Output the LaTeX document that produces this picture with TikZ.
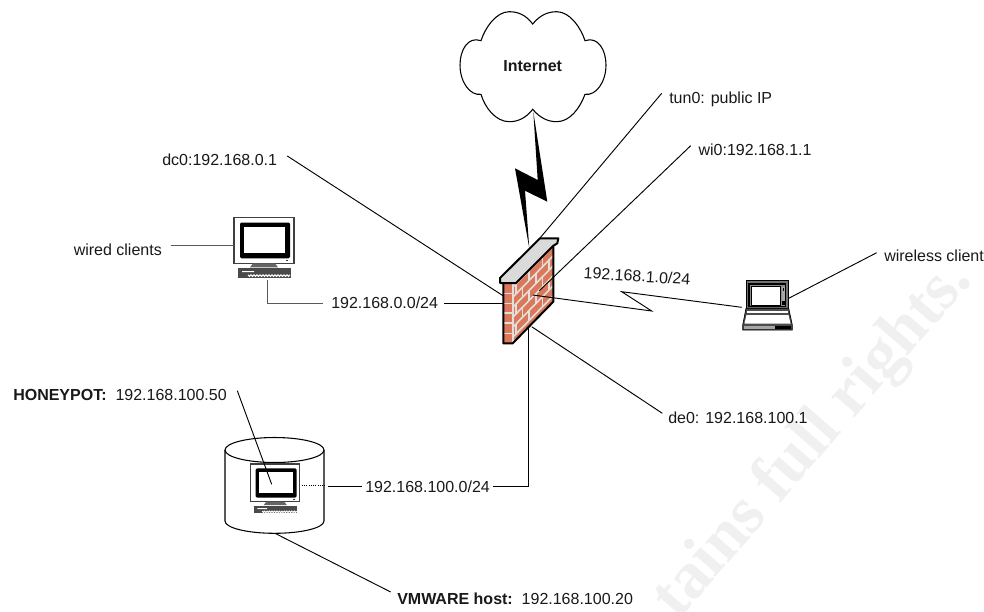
\documentclass[tikz,border=0pt]{standalone}
\usepackage{fontspec}
\setmainfont{Liberation Sans}
\newfontfamily\wmfont{Liberation Serif}
\definecolor{brick}{HTML}{D9785A}
\definecolor{mortar}{HTML}{E4DFDA}
\definecolor{capgray}{HTML}{DADADA}
\definecolor{wmark}{HTML}{F0F0F0}
\definecolor{kbgray}{HTML}{4A4A4A}
\tikzset{
  x=0.75pt,y=-0.75pt,
  wire/.style={draw=black,line width=0.7pt},
  graywire/.style={draw=black!65,line width=1pt},
  label/.style={anchor=base west,inner sep=0pt,font=\fontsize{12}{14}\selectfont,text=black!90},
  mortarline/.style={draw=mortar,line width=1.2pt},
  watermark/.style={font=\wmfont\bfseries\fontsize{50}{52}\selectfont,text=wmark,inner sep=0pt}
}
\newcommand{\pcmonitor}[3]{%
 \begin{scope}[shift={(#1,#2)},scale=#3]
  \fill[white,draw=black!75,line width=0.8pt] (0,0) rectangle (60,46);
  \fill[black,rounded corners=1pt] (6,5.3) rectangle (56,41);
  \fill[white] (10,10) rectangle (51,35.3);
  \fill[black!80] (51.5,42.3) rectangle (54,43.3);
  \fill[black!60] (19,46) -- (41,46) -- (44,50) -- (16,50) -- cycle;
  \fill[kbgray] (3.7,51) rectangle (56.7,60.3);
  \draw[white,line width=0.8pt] (8,54.3) -- (20,54.3) (14,57.5)
     \foreach \k in {0,...,13}{ -- ++(1.5,1.5) -- ++(1.5,-1.5)};
 \end{scope}}
\begin{document}
\begin{tikzpicture}
\useasboundingbox (0,0) rectangle (984,611);
\clip (0,0) rectangle (984,611);
\fill[white] (0,0) rectangle (984,611);
% watermark
\node[watermark,rotate=49] (wm) at (814,440) {tains full rights.};
% cloud
\draw[fill=white,line width=0.8pt] (532.7,24) .. controls (540,15) and (548,11.7) .. (556.7,11.7)
  .. controls (570,11.7) and (581,28) .. (585,40.7)
  .. controls (598,36) and (606,50) .. (606,65)
  .. controls (606,82) and (596,96) .. (585,94.3)
  .. controls (580,108) and (570,121.7) .. (556.7,121.7)
  .. controls (548,121.7) and (540,118) .. (532.7,109.3)
  .. controls (526,118) and (518,121.7) .. (509.3,121.7)
  .. controls (496,121.7) and (485,108) .. (481,94.3)
  .. controls (470,96) and (460,82) .. (460,65)
  .. controls (460,50) and (468,36) .. (481,40.7)
  .. controls (485,28) and (496,11.7) .. (509.3,11.7)
  .. controls (518,11.7) and (526,15) .. (532.7,24) -- cycle;
\node[label,anchor=base,font=\bfseries\fontsize{12}{14}\selectfont] (internet) at (532.7,71.7) {Internet};
% lightning
\fill[black] (533.3,111.7) -- (547.3,201.7) -- (525,190.7) -- (529.3,248.3) -- (515,168.3) -- (537.7,180) -- cycle;
% firewall
\begin{scope}
  \fill[brick] (503.3,283) -- (516,283) -- (553.3,246.7) -- (553.3,301.7) -- (512.7,343.3) -- (503.3,343.3) -- cycle;
  \clip (503.3,283) -- (516,283) -- (553.3,246.7) -- (553.3,301.7) -- (512.7,343.3) -- (503.3,343.3) -- cycle;
  \foreach \yy in {293.3,303.3,312.7,322.7,333.3}{\draw[mortarline] (503.3,\yy) -- (512.7,\yy);}
  \draw[mortarline,line width=1.4pt] (512.7,343.3) -- (512.7,280);
  \begin{scope}[shift={(512.7,343.3)},yslant=1.025]
    \foreach \k in {0,...,6}{
      \pgfmathsetmacro{\vv}{-(\k*10+6)}
      \draw[mortarline] (0,\vv) -- (42,\vv);
      \pgfmathsetmacro{\vt}{\vv-10}
      \pgfmathsetmacro{\off}{mod(\k,2)*6.7+3}
      \foreach \j in {0,1,2}{
        \pgfmathsetmacro{\uu}{\off+\j*13.4}
        \draw[mortarline] (\uu,\vv) -- (\uu,\vt);
      }
    }
  \end{scope}
\end{scope}
\draw[line width=1.5pt,line join=round] (503.3,283) -- (503.3,343.3) -- (512.7,343.3) -- (553.3,301.7) -- (553.3,246.7);
\draw[fill=capgray,line width=1.5pt,line join=round] (500,278) -- (540,238.3) -- (558.3,238.3) -- (557.3,243.3) -- (553,246) -- (516,283) -- (500,283) -- cycle;
% PC 1
\pcmonitor{234}{217.3}{1}
\coordinate (pcleft) at (234,245.7);
\coordinate (pcbot) at (267.3,280);
\coordinate (pccorner) at (267.3,303.3);
% cylinder
\draw[fill=white,line width=0.8pt] (225,450) -- (225,521) arc[start angle=180,end angle=0,x radius=49.5,y radius=12.3] -- (324,450);
\draw[fill=white,line width=0.8pt] (274.5,450) ellipse[x radius=49.5,y radius=12.5];
\pcmonitor{250.7}{464}{0.82}
% laptop
\fill[black!55,draw=black,line width=0.6pt] (746,280.7) rectangle (788.7,308.3);
\fill[black] (748,283) rectangle (786,307);
\fill[black!45] (749.5,284.5) rectangle (785,306);
\fill[black] (751,286) rectangle (781,306);
\fill[white] (752,286.5) rectangle (780,304.5);
\fill[black!35] (781.5,287) rectangle (785,304);
\fill[black] (782.5,288) rectangle (784,291);
\fill[black] (782,301) rectangle (785,305);
\fill[black!70,draw=black,line width=0.5pt] (746,308.3) -- (788.7,308.3) -- (792.3,325) -- (792.3,330) -- (742.7,330) -- (742.7,325) -- cycle;
\fill[white] (747,311) rectangle (788,312.5);
\fill[white] (746.5,315) -- (788.5,315) -- (790.5,323.5) -- (744.5,323.5) -- cycle;
\fill[black!35] (744,326) rectangle (775,329);
\fill[black] (775,326) rectangle (791,329);
% labels
\node[label] (tun) at (669,103.3) {tun0: public IP};
\node[label] (wi) at (698.3,155) {wi0:192.168.1.1};
\node[label] (dc) at (162,165) {dc0:192.168.0.1};
\node[label] (wired) at (73.5,255) {wired clients};
\node[label] (wless) at (884,261.5) {wireless client};
\node[label] (net0) at (331,308) {192.168.0.0/24};
\node[label,anchor=center,rotate=-3.5] (net1) at (637,276) {192.168.1.0/24};
\node[label] (de) at (668,423.3) {de0: 192.168.100.1};
\node[label] (hp) at (13,400) {\textbf{HONEYPOT:}\ \ 192.168.100.50};
\node[label] (net100) at (365,492) {192.168.100.0/24};
\node[label] (vm) at (397,604.5) {\textbf{VMWARE host:}\ \ 192.168.100.20};
% named connector ends
\coordinate (fwtun) at (540,238);
\coordinate (fwwi) at (539.3,290.7);
\coordinate (fwdc) at (503,295.7);
\coordinate (fwnet0) at (503.3,303.3);
\coordinate (fwlan) at (532.7,295);
\coordinate (fwde) at (531.7,326.7);
\coordinate (fwbot) at (528.7,326.7);
\coordinate (z1) at (651.7,311);
\coordinate (z2) at (621.7,291.7);
\coordinate (lap) at (741.7,307.3);
\coordinate (lapr) at (788.7,298.3);
\coordinate (net100c) at (528.7,486.7);
\coordinate (cylr) at (301.7,485);
\coordinate (dotend) at (325,485);
\coordinate (hpscreen) at (271.7,484.3);
\coordinate (cylbot) at (275,533.3);
% connectors
\draw[wire] (661.7,93.3) -- (fwtun);
\draw[wire] (690.7,145.7) -- (fwwi);
\draw[wire] (287.3,156) -- (fwdc);
\draw[graywire] (170.7,245.7) -- (pcleft);
\draw[graywire] (pcbot) -- (pccorner) -- (323,303.3);
\draw[wire] (444,303.3) -- (fwnet0);
\draw[wire] (fwlan) -- (z1) -- (z2) -- (lap);
\draw[wire] (lapr) -- (876.7,252.7);
\draw[wire] (fwde) -- (662.3,413.3);
\draw[wire] (fwbot) -- (net100c) -- (493,486.7);
\draw[wire] (328.3,486.7) -- (361.7,486.7);
\draw[wire,densely dotted,line width=0.5pt] (cylr) -- (dotend);
\draw[wire] (237.3,390.7) -- (hpscreen);
\draw[wire] (cylbot) -- (390.7,592);
\end{tikzpicture}
\end{document}
